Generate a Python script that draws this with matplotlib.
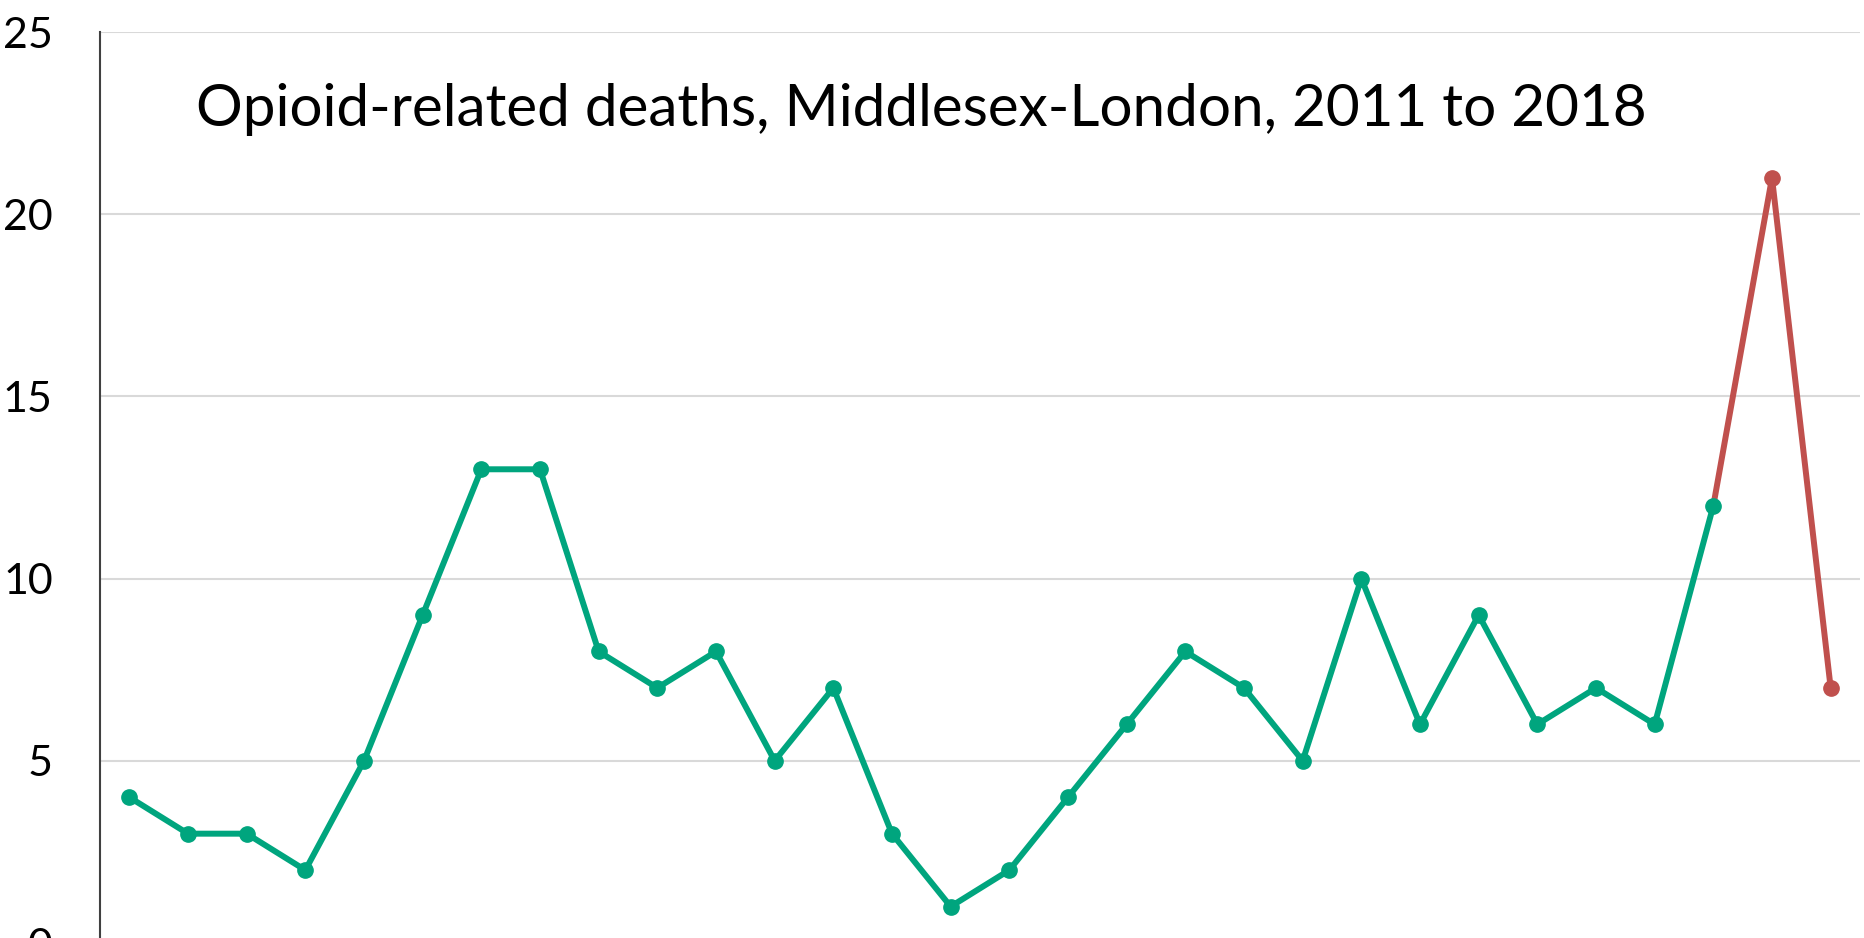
import matplotlib.pyplot as plt
import numpy as np

plt.rcParams['font.family'] = ['Lato', 'DejaVu Sans']

# monthly opioid-related deaths (30 periods)
deaths = [4, 3, 3, 2, 5, 9, 13, 13, 8, 7, 8, 5, 7, 3, 1, 2, 4, 6, 8, 7,
          5, 10, 6, 9, 6, 7, 6, 12, 21, 7]
split = 27  # last green point, red after this
title = 'Opioid-related deaths, Middlesex-London, 2011 to 2018'
yticks = [0, 5, 10, 15, 20, 25]

green = '#00A57E'
red = '#C0504D'

fig = plt.figure(figsize=(18.64, 9.38), dpi=100)
ax = fig.add_axes([100/1864, -5/938, 1760/1864, 911/938])

x = np.arange(len(deaths))
ax.plot(x[split:], deaths[split:], color=red, lw=4.3, marker='o', ms=11,
        markevery=[1, 2], solid_joinstyle='round')
ax.plot(x[:split+1], deaths[:split+1], color=green, lw=4.3, marker='o', ms=11,
        solid_joinstyle='round')

ax.set_xlim(-0.5, len(deaths) - 0.5)
ax.set_ylim(0, 25)
ax.set_yticks(yticks)
ax.set_xticks([])
ax.tick_params(axis='y', length=0, pad=34, labelsize=31)
ax.grid(axis='y', color='#D9D9D9', lw=1.5)
ax.set_axisbelow(True)
for s in ['top', 'right', 'bottom']:
    ax.spines[s].set_visible(False)
ax.spines['left'].set_linewidth(1.5)
ax.spines['left'].set_color('#404040')

fig.text(921/1864, 1 - 110/938, title, fontsize=42, ha='center', va='center')

fig.savefig('out.png', dpi=100)
